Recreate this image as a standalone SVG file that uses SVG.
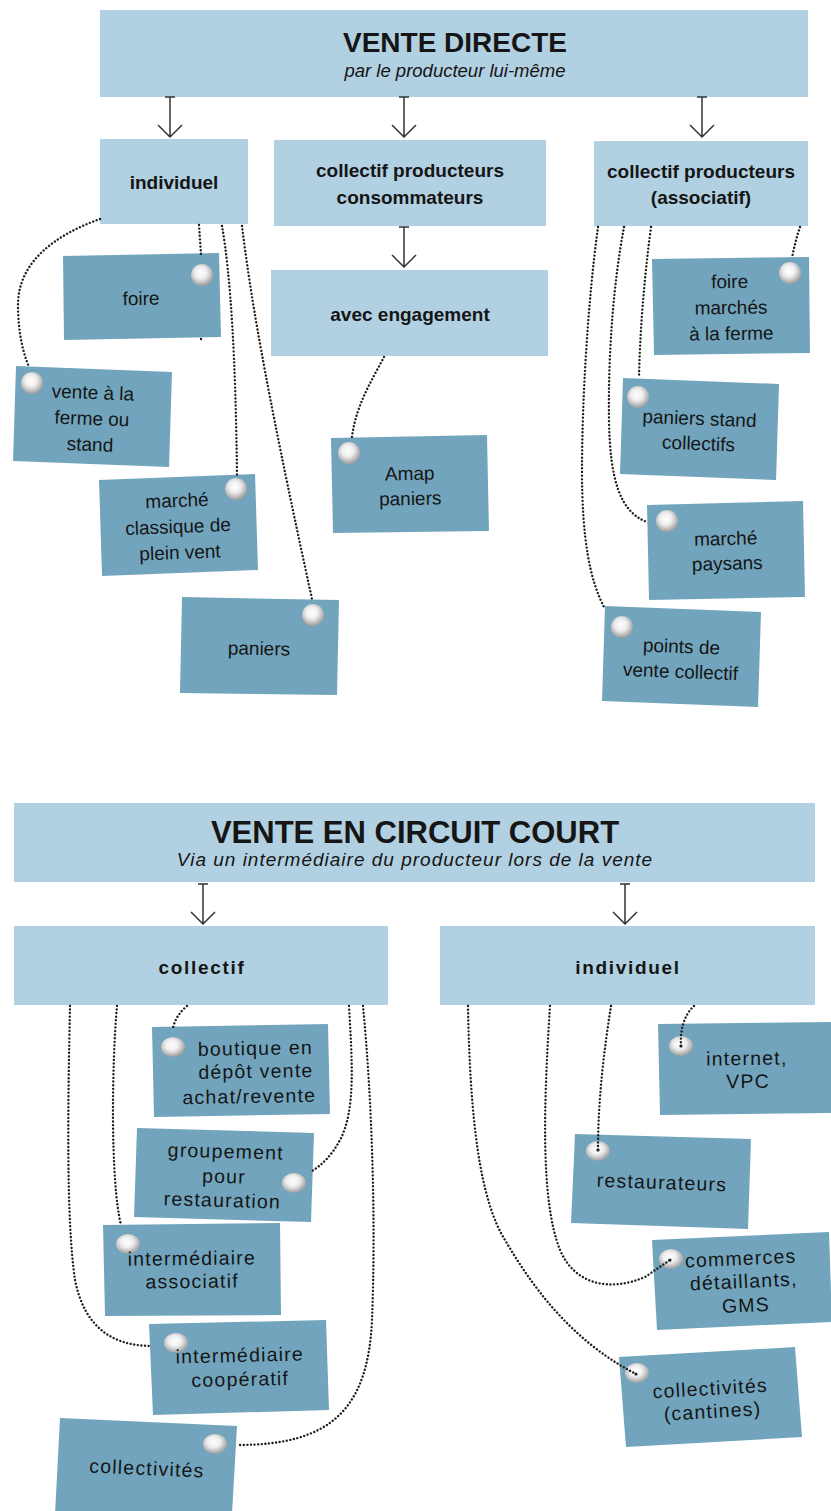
<svg xmlns="http://www.w3.org/2000/svg" width="831" height="1511" viewBox="0 0 831 1511">
<style>
.hdr{fill:#b1d0e1}
.card{fill:#72a5bd}
.t{font-family:"Liberation Sans",Arial,sans-serif;fill:#151515;text-anchor:middle}
.b{font-weight:bold;font-size:19px}
.ttl{font-size:28px;font-weight:bold}
.ttl2{font-size:31px;font-weight:bold}
.sub{font-size:18.5px;font-style:italic}
.sub2{font-size:19px;font-style:italic;letter-spacing:1px}
.b2{font-weight:bold;font-size:19px;letter-spacing:1.7px}
.lbl{font-size:19px}
.lbl2{font-size:19.5px;letter-spacing:1.2px}
.c{fill:none;stroke:#1e1e1e;stroke-width:2.4;stroke-linecap:round;stroke-dasharray:0.01 3.6}
.arr{fill:none;stroke:#333;stroke-width:1.5}
.dot{fill:#1e1e1e}
</style>
<defs>
<radialGradient id="ball" cx="0.45" cy="0.4" r="0.6">
<stop offset="0" stop-color="#ffffff"/>
<stop offset="0.45" stop-color="#eeeeee"/>
<stop offset="1" stop-color="#9c9c9c"/>
</radialGradient>
<path id="arrow" class="arr" d="M-5,0 H5 M0,0 V40 M-12,28 L0,40 L12,28"/>
</defs>
<rect width="831" height="1511" fill="#ffffff"/>

<!-- ===== VENTE DIRECTE ===== -->
<g id="vente-directe">
<rect class="hdr" x="100" y="10" width="708" height="87"/>
<text class="t ttl" x="455" y="52">VENTE DIRECTE</text>
<text class="t sub" x="455" y="77">par le producteur lui-même</text>
</g>
<g id="individuel">
<rect class="hdr" x="100" y="139" width="148" height="85"/>
<text class="t b" x="174" y="189">individuel</text>
</g>
<g id="collectif-conso">
<rect class="hdr" x="274" y="140" width="272" height="86"/>
<text class="t b" x="410" y="177">collectif producteurs</text>
<text class="t b" x="410" y="204">consommateurs</text>
</g>
<g id="collectif-asso">
<rect class="hdr" x="594" y="141" width="214" height="85"/>
<text class="t b" x="701" y="178">collectif producteurs</text>
<text class="t b" x="701" y="204">(associatif)</text>
</g>
<g id="avec-engagement">
<rect class="hdr" x="271" y="270" width="277" height="86"/>
<text class="t b" x="410" y="321">avec engagement</text>
</g>

<g id="foire">
<polygon class="card" points="63,256 219,253 221,337 64,340"/>
<circle cx="202" cy="275" r="11" fill="url(#ball)"/>
<text class="t lbl" x="141" y="305" transform="rotate(-1.1 141 298)">foire</text>
</g>
<g id="vente-ferme">
<polygon class="card" points="16,366 172,372 169,467 13,461"/>
<circle cx="32" cy="383" r="11" fill="url(#ball)"/>
<g transform="rotate(2.2 92 418)">
<text class="t lbl" x="92" y="399">vente à la</text>
<text class="t lbl" x="92" y="425">ferme ou</text>
<text class="t lbl" x="91" y="451">stand</text>
</g>
</g>
<g id="marche-classique">
<polygon class="card" points="99,480 255,474 258,570 102,576"/>
<circle cx="236" cy="489" r="11" fill="url(#ball)"/>
<g transform="rotate(-2.2 178 526)">
<text class="t lbl" x="178" y="507">marché</text>
<text class="t lbl" x="178" y="533">classique de</text>
<text class="t lbl" x="179" y="559">plein vent</text>
</g>
</g>
<g id="paniers">
<polygon class="card" points="182,597 339,600 337,695 180,693"/>
<circle cx="313" cy="615" r="11" fill="url(#ball)"/>
<text class="t lbl" x="259" y="655" transform="rotate(1.1 259 648)">paniers</text>
</g>
<g id="amap">
<polygon class="card" points="331,438 487,435 489,531 333,533"/>
<circle cx="349" cy="453" r="11" fill="url(#ball)"/>
<g transform="rotate(-1.1 410 486)">
<text class="t lbl" x="410" y="480">Amap</text>
<text class="t lbl" x="410" y="505">paniers</text>
</g>
</g>
<g id="foire-marches">
<polygon class="card" points="652,259 809,257 810,353 654,355"/>
<circle cx="790" cy="273" r="11" fill="url(#ball)"/>
<g transform="rotate(-0.7 731 308)">
<text class="t lbl" x="730" y="288">foire</text>
<text class="t lbl" x="731" y="314">marchés</text>
<text class="t lbl" x="731" y="340">à la ferme</text>
</g>
</g>
<g id="paniers-stand">
<polygon class="card" points="623,378 779,384 776,480 620,474"/>
<circle cx="638" cy="397" r="11" fill="url(#ball)"/>
<g transform="rotate(2.2 699 431)">
<text class="t lbl" x="699" y="425">paniers stand</text>
<text class="t lbl" x="699" y="450">collectifs</text>
</g>
</g>
<g id="marche-paysans">
<polygon class="card" points="647,505 803,501 805,597 649,600"/>
<circle cx="667" cy="521" r="11" fill="url(#ball)"/>
<g transform="rotate(-1.5 726 552)">
<text class="t lbl" x="726" y="545">marché</text>
<text class="t lbl" x="727" y="570">paysans</text>
</g>
</g>
<g id="points-vente">
<polygon class="card" points="605,606 761,612 758,707 602,701"/>
<circle cx="622" cy="627" r="11" fill="url(#ball)"/>
<g transform="rotate(2.2 681 659)">
<text class="t lbl" x="681" y="653">points de</text>
<text class="t lbl" x="681" y="678">vente collectif</text>
</g>
</g>

<!-- ===== VENTE EN CIRCUIT COURT ===== -->
<g id="circuit-court">
<rect class="hdr" x="14" y="803" width="801" height="79"/>
<text class="t ttl2" x="415" y="843">VENTE EN CIRCUIT COURT</text>
<text class="t sub2" x="415" y="866">Via un intermédiaire du producteur lors de la vente</text>
</g>
<g id="cc-collectif">
<rect class="hdr" x="14" y="926" width="374" height="79"/>
<text class="t b2" x="202" y="974">collectif</text>
</g>
<g id="cc-individuel">
<rect class="hdr" x="440" y="926" width="375" height="79"/>
<text class="t b2" x="628" y="974">individuel</text>
</g>

<g id="boutique">
<polygon class="card" points="152,1027 328,1024 330,1114 154,1117"/>
<ellipse cx="173" cy="1047" rx="12" ry="10" fill="url(#ball)"/>
<g transform="rotate(-1 252 1078)">
<text class="t lbl2" x="256" y="1055">boutique en</text>
<text class="t lbl2" x="256" y="1078">dépôt vente</text>
<text class="t lbl2" x="249" y="1103">achat/revente</text>
</g>
</g>
<g id="groupement">
<polygon class="card" points="137,1128 314,1133 311,1222 134,1217"/>
<ellipse cx="294" cy="1183" rx="12" ry="10" fill="url(#ball)"/>
<g transform="rotate(1.6 224 1180)">
<text class="t lbl2" x="225" y="1158">groupement</text>
<text class="t lbl2" x="224" y="1183">pour</text>
<text class="t lbl2" x="223" y="1207">restauration</text>
</g>
</g>
<g id="inter-asso">
<polygon class="card" points="103,1225 280,1223 281,1315 105,1316"/>
<ellipse cx="128" cy="1244" rx="12" ry="10" fill="url(#ball)"/>
<g transform="rotate(-0.6 192 1270)">
<text class="t lbl2" x="192" y="1265">intermédiaire</text>
<text class="t lbl2" x="192" y="1288">associatif</text>
</g>
</g>
<g id="inter-coop">
<polygon class="card" points="149,1324 326,1320 329,1410 153,1415"/>
<ellipse cx="176" cy="1343" rx="12" ry="10" fill="url(#ball)"/>
<g transform="rotate(-1.3 239 1367)">
<text class="t lbl2" x="240" y="1362">intermédiaire</text>
<text class="t lbl2" x="240" y="1386">coopératif</text>
</g>
</g>
<g id="collectivites">
<polygon class="card" points="60,1418 237,1426 232,1514 55,1514"/>
<ellipse cx="215" cy="1444" rx="12" ry="10" fill="url(#ball)"/>
<text class="t lbl2" x="147" y="1475" transform="rotate(2.6 147 1468)">collectivités</text>
</g>
<g id="internet">
<polygon class="card" points="658,1024 835,1022 835,1113 660,1115"/>
<ellipse cx="681" cy="1046" rx="12" ry="10" fill="url(#ball)"/>
<g transform="rotate(-0.7 746 1072)">
<text class="t lbl2" x="747" y="1065">internet,</text>
<text class="t lbl2" x="748" y="1088">VPC</text>
</g>
</g>
<g id="restaurateurs">
<polygon class="card" points="575,1134 751,1139 748,1229 571,1223"/>
<ellipse cx="598" cy="1151" rx="12" ry="10" fill="url(#ball)"/>
<text class="t lbl2" x="662" y="1189" transform="rotate(2 661 1182)">restaurateurs</text>
</g>
<g id="commerces">
<polygon class="card" points="652,1240 829,1232 832,1322 657,1330"/>
<ellipse cx="671" cy="1259" rx="12" ry="10" fill="url(#ball)"/>
<g transform="rotate(-2.6 743 1287)">
<text class="t lbl2" x="742" y="1265">commerces</text>
<text class="t lbl2" x="744" y="1288">détaillants,</text>
<text class="t lbl2" x="745" y="1312">GMS</text>
</g>
</g>
<g id="cantines">
<polygon class="card" points="619,1357 795,1347 802,1437 626,1447"/>
<ellipse cx="637" cy="1373" rx="12" ry="10" fill="url(#ball)"/>
<g transform="rotate(-3.3 711 1402)">
<text class="t lbl2" x="711" y="1395">collectivités</text>
<text class="t lbl2" x="712" y="1418">(cantines)</text>
</g>
</g>

<!-- ===== CONNECTORS ===== -->
<g id="connectors">
<use href="#arrow" x="170" y="97"/>
<use href="#arrow" x="404" y="97"/>
<use href="#arrow" x="702" y="97"/>
<use href="#arrow" x="404" y="227"/>
<use href="#arrow" x="203" y="884"/>
<use href="#arrow" x="625" y="884"/>

<path class="c" d="M100,219 C55,235 18,262 18,305 C18,335 24,355 29,367"/>
<path class="c" d="M199,225 L201,255"/>
<path class="c" d="M201,339 L201,342"/>
<path class="c" d="M222,226 Q235,300 237,475"/>
<path class="c" d="M242,226 C250,290 262,370 312,599"/>
<path class="c" d="M384,357 C372,380 356,405 352,437"/>
<path class="c" d="M598,227 C588,300 582,400 582,470 C582,540 590,580 604,607"/>
<path class="c" d="M624,227 C614,280 608,350 609,420 C610,480 620,512 647,522"/>
<path class="c" d="M651,227 C644,280 640,330 639,378"/>
<path class="c" d="M800,227 Q795,242 792,258"/>

<path class="c" d="M70,1006 C68,1100 66,1220 75,1280 C85,1330 115,1345 149,1346"/>
<path class="c" d="M117,1006 C112,1060 110,1180 121,1225"/>
<path class="c" d="M187,1006 Q176,1015 173,1028"/>
<path class="c" d="M349,1006 C352,1060 356,1110 340,1140 C332,1155 322,1165 312,1171"/>
<path class="c" d="M363,1006 C372,1100 376,1220 372,1320 C368,1410 330,1445 238,1445"/>
<path class="c" d="M468,1006 C470,1120 480,1200 505,1240 C540,1300 580,1345 636,1374"/>
<path class="c" d="M550,1006 C544,1100 540,1200 560,1250 C575,1285 610,1292 645,1277 L670,1260"/>
<path class="c" d="M611,1006 C604,1050 598,1100 598,1150"/>
<path class="c" d="M694,1006 C684,1015 680,1030 681,1046"/>
<circle class="dot" cx="681" cy="1046" r="1.6"/>
<circle class="dot" cx="598" cy="1150" r="1.6"/>
<circle class="dot" cx="670" cy="1260" r="1.6"/>
<circle class="dot" cx="636" cy="1374" r="1.6"/>
</g>
</svg>
